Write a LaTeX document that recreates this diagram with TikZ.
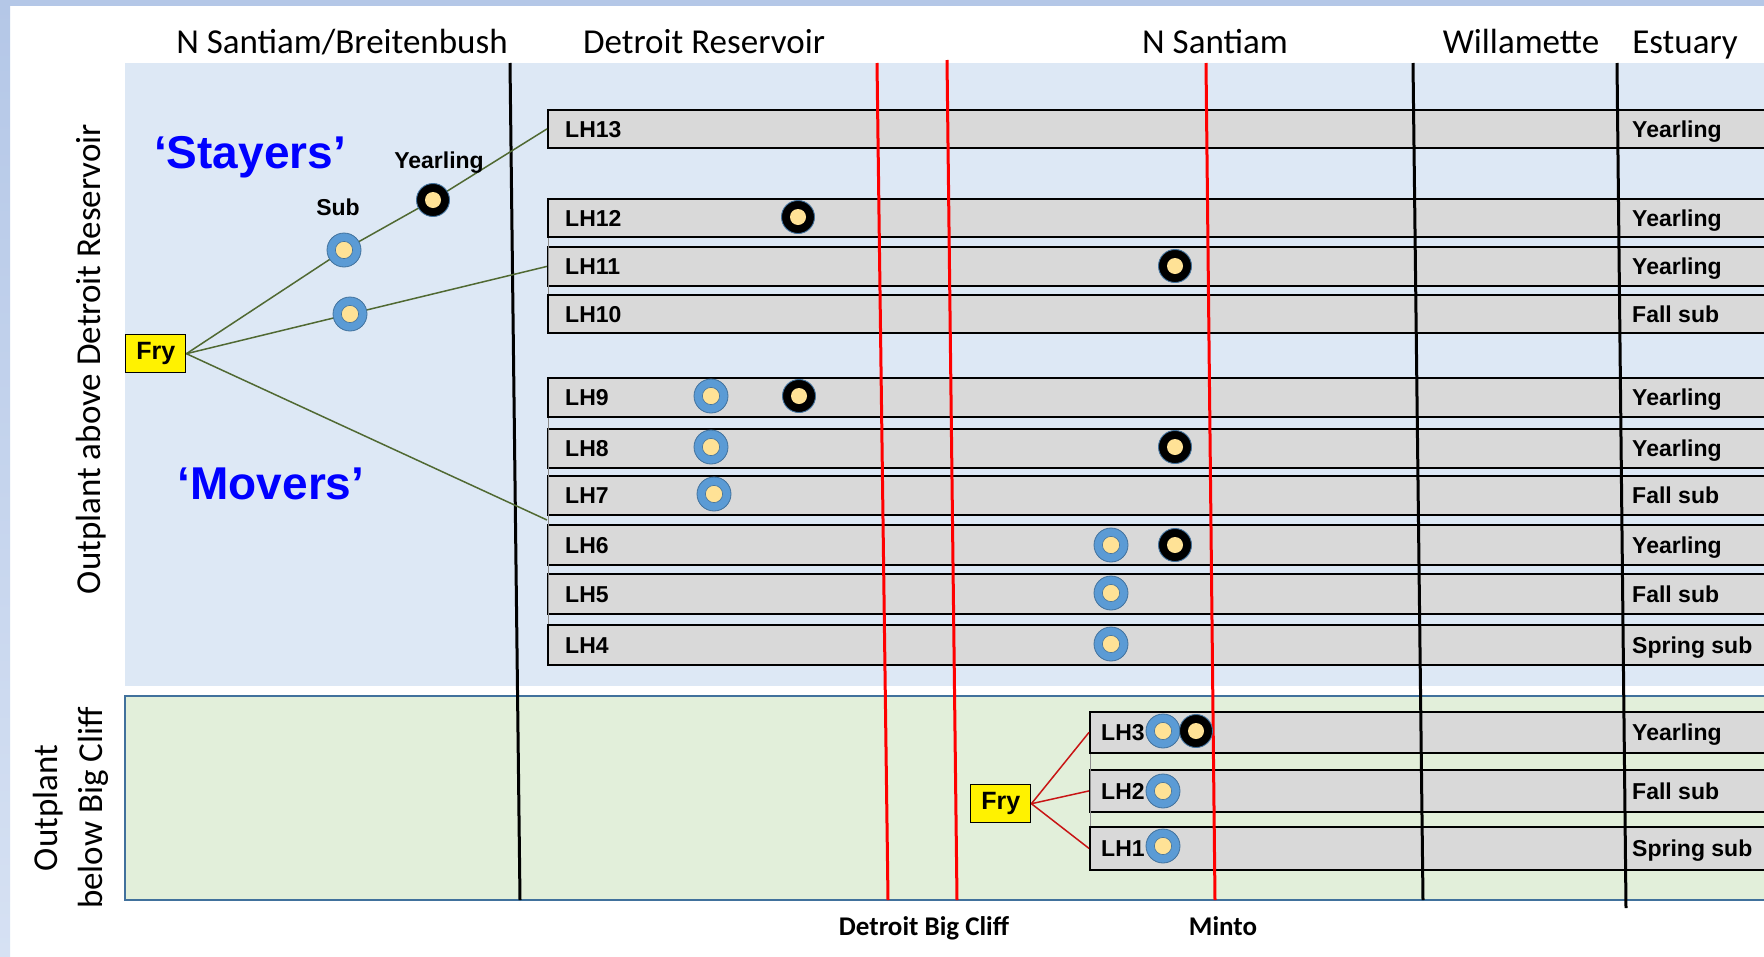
\documentclass[tikz,border=0pt]{standalone}
\usepackage{fontspec}
\setmainfont{Carlito}
\newfontfamily\arialf{Liberation Sans}
\definecolor{stripc}{RGB}{180,199,231}
\definecolor{stripd}{RGB}{214,225,243}
\definecolor{bluepanel}{RGB}{221,232,245}
\definecolor{greenpanel}{RGB}{226,239,218}
\definecolor{paneledge}{RGB}{65,113,156}
\definecolor{barg}{RGB}{217,217,217}
\definecolor{ringblue}{RGB}{91,155,213}
\definecolor{ringedge}{RGB}{65,113,156}
\definecolor{yel}{RGB}{255,226,150}
\definecolor{olive}{RGB}{80,105,50}
\definecolor{darkred}{RGB}{200,20,20}
\definecolor{txtblue}{RGB}{0,0,255}
\definecolor{brk}{RGB}{140,140,140}
\begin{document}
\begin{tikzpicture}[x=1pt,y=-1pt,
  bar/.style={draw=black, line width=1.8pt, fill=barg, minimum width=1400pt, anchor=north west, inner sep=0pt},
  boldlab/.style={font=\arialf\bfseries\fontsize{23}{26}\selectfont, inner sep=0pt},
  hdr/.style={font=\fontsize{35}{40}\selectfont, inner sep=0pt, anchor=base},
  sidelab/.style={font=\fontsize{35}{40}\selectfont, inner sep=0pt, anchor=base, rotate=90},
  bigblue/.style={font=\arialf\bfseries\fontsize{46}{50}\selectfont, text=txtblue, inner sep=0pt, anchor=base},
  damlab/.style={font=\bfseries\fontsize{27}{30}\selectfont, inner sep=0pt, anchor=base},
  frybox/.style={draw=black, line width=1.4pt, fill=yellow, minimum width=60pt, minimum height=38pt, inner sep=0pt, font=\arialf\bfseries\fontsize{25}{28}\selectfont},
  subring/.style={circle, minimum size=34pt, inner sep=0pt, fill=ringblue, draw=ringedge, line width=0.8pt,
    path picture={\draw[ringedge, line width=0.6pt, fill=yel] (path picture bounding box.center) circle (8.6pt);}},
  yrring/.style={circle, minimum size=33pt, inner sep=0pt, fill=black, draw=ringedge, line width=0.9pt,
    path picture={\fill[yel] (path picture bounding box.center) circle (8pt);}},
  riverline/.style={line width=3pt, black},
  damline/.style={line width=3pt, red},
  greenlink/.style={olive, line width=1.5pt},
  redlink/.style={darkred, line width=1.5pt},
  bracket/.style={brk, line width=1pt}
]
\useasboundingbox (0,0) rectangle (1764,956);
\clip (0,0) rectangle (1764,956);
\fill[white] (0,0) rectangle (1764,956);
% frame strips
\fill[stripc] (0,0) rectangle (1764,6);
\shade[top color=stripc, bottom color=stripd] (0,0) rectangle (10,956);
% panels
\fill[bluepanel] (125,63) rectangle (1780,686);
\draw[paneledge, line width=1.2pt, fill=greenpanel] (1790,696) -- (125,696) -- (125,900) -- (1790,900);

% headers
\node[hdr] (hA) at (342,53) {N Santiam/Breitenbush};
\node[hdr] (hB) at (704,53) {Detroit Reservoir};
\node[hdr] (hC) at (1215,53) {N Santiam};
\node[hdr] (hD) at (1521,53) {Willamette};
\node[hdr] (hE) at (1685,53) {Estuary};

% side labels
\node[sidelab] (sideA) at (100,359) {Outplant above Detroit Reservoir};
\node[sidelab] (sideB) at (57,808) {Outplant};
\node[sidelab] (sideC) at (102,808) {below Big Cliff};

\coordinate (estx) at (1632,0);

% bars
\foreach \n/\x/\y/\h/\e in {13/547/109/38/Yearling, 12/547/198/38/Yearling, 11/547/246/39/Yearling, 10/547/294/38/Fall sub,
  9/547/377/39/Yearling, 8/547/428/39/Yearling, 7/547/475/39/Fall sub, 6/547/524/40/Yearling, 5/547/573/40/Fall sub, 4/547/624/40/Spring sub,
  3/1089/711/41/Yearling, 2/1089/769/42/Fall sub, 1/1089/826/43/Spring sub}{
  \node[bar, minimum height=\h pt] (lh\n) at (\x,\y) {};
  \node[boldlab, anchor=base west] (est\n) at ([yshift=-8.5pt]lh\n.west -| estx) {\e};
}
\foreach \n in {13,12,11,10,9,8,7,6,5,4}{
  \node[boldlab, anchor=base west] (lab\n) at ([xshift=18pt,yshift=-8.5pt]lh\n.west) {LH\n};
}
\foreach \n in {3,2,1}{
  \node[boldlab, anchor=base west] (lab\n) at ([xshift=12pt,yshift=-8.5pt]lh\n.west) {LH\n};
}
\draw[bracket] ([xshift=1pt]lh12.south west) -- ([xshift=1pt]lh10.north west);
\draw[bracket] ([xshift=1pt]lh9.south west) -- ([xshift=1pt]lh4.north west);
\draw[bracket] ([xshift=1pt]lh3.south west) -- ([xshift=1pt]lh1.north west);

% river / dam lines
\draw[riverline] (510,63) -- (520,900);
\draw[riverline] (1413,63) -- (1423,900);
\draw[riverline] (1617,63) -- (1626,908);
\draw[damline] (877,63) -- (888,900);
\draw[damline] (947,60) -- (957,900);
\draw[damline] (1206,63) -- (1215,900);

% fry boxes
\node[frybox, anchor=north west] (fryU) at (125,334) {Fry};
\node[frybox, anchor=north west] (fryL) at (970,784) {Fry};

% circle positions
\coordinate (sub1) at (344,250);
\coordinate (yl1) at (433,200);
\coordinate (sub2) at (350,314);

% connectors
\draw[greenlink] (fryU.east) -- (sub1) -- (yl1) -- (lh13.west);
\draw[greenlink] (fryU.east) -- (sub2) -- (lh11.west);
\draw[greenlink] (fryU.east) -- ([yshift=4pt]lh6.north west);
\draw[redlink] (fryL.east) -- (lh3.west);
\draw[redlink] (fryL.east) -- (lh2.west);
\draw[redlink] (fryL.east) -- (lh1.west);

% circles
\node[subring] (cs1) at (sub1) {};
\node[yrring] (cy1) at (yl1) {};
\node[subring] (cs2) at (sub2) {};
\node[yrring] (c12) at (798,217) {};
\node[yrring] (c11) at (1175,266) {};
\node[subring] (c9a) at (711,396) {};
\node[yrring] (c9b) at (799,396) {};
\node[subring] (c8a) at (711,447) {};
\node[yrring] (c8b) at (1175,447) {};
\node[subring] (c7) at (714,494) {};
\node[subring] (c6a) at (1111,545) {};
\node[yrring] (c6b) at (1175,545) {};
\node[subring] (c5) at (1111,593) {};
\node[subring] (c4) at (1111,644) {};
\node[subring] (c3a) at (1163,731) {};
\node[yrring] (c3b) at (1196,731) {};
\node[subring] (c2) at (1163,791) {};
\node[subring] (c1) at (1163,846) {};

% stage labels
\node[boldlab, anchor=base] (lsub) at (338,215) {Sub};
\node[boldlab, anchor=base] (lyr) at (439,168) {Yearling};

% group labels
\node[bigblue] (stay) at (250,168) {‘Stayers’};
\node[bigblue] (move) at (271,499) {‘Movers’};

% dam labels
\node[damlab] (dbc) at (924,935) {Detroit Big Cliff};
\node[damlab] (minto) at (1223,935) {Minto};
\end{tikzpicture}
\end{document}
